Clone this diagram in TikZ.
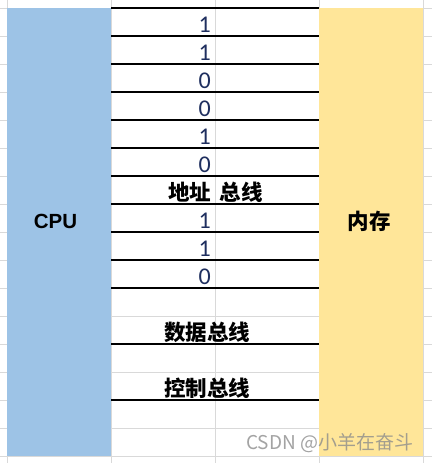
\documentclass[tikz,border=0pt]{standalone}
\usepackage{fontspec}
\setmainfont{Liberation Sans}
\newfontfamily\cjk{Noto Sans CJK SC}
\newfontfamily\digitfont{Carlito}
\definecolor{cpublue}{HTML}{9DC3E6}
\definecolor{memyellow}{HTML}{FFE699}
\definecolor{gridgray}{HTML}{D9D9D9}
\definecolor{bitnavy}{HTML}{1F2F5F}
\begin{document}
\begin{tikzpicture}[x=1pt, y=-1pt,
		bit/.style={anchor=base east, inner sep=0pt, font=\digitfont\fontsize{24}{26}\selectfont, text=bitnavy},
		bus/.style={inner sep=0pt, font=\cjk\bfseries\fontsize{21.5}{24}\selectfont}]
		\useasboundingbox (0,0) rectangle (432,463);
		\fill[white] (0,0) rectangle (432,463);
		%--- Excel Raster
		\foreach \gx in {7,111,215,319,423}
			\draw[gridgray, line width=1pt] (\gx,0) -- (\gx,463);
		\foreach \gy in {8,36,...,456}
			\draw[gridgray, line width=1pt] (0,\gy) -- (432,\gy);
		
		\fill[cpublue] (7,8) rectangle (111,456);
		\node[font=\bfseries\fontsize{20.5}{24}\selectfont, inner sep=0pt] (cpu) at (55.5,221) {CPU};
		
		\fill[memyellow] (319,8) rectangle (423,456);
		\node[bus] (mem) at (369,221.5) {内存};
		
		%--- Adressbus
		\foreach \gy in {8,36,...,288}
			\draw[black, line width=1.3pt] (111,\gy) -- (319,\gy);
		\foreach \b [count=\i from 0] in {1,1,0,0,1,0}
			\node[bit] (a\i) at (211,32+28*\i) {\b};
		\node[bus] (addr) at (189.5,192) {地址};
		\node[bus] (addrb) at (241,192) {总线};
		\foreach \b [count=\i from 7] in {1,1,0}
			\node[bit] (a\i) at (211,32+28*\i) {\b};
		
		%--- Daten- und Steuerbus
		\draw[black, line width=1.3pt] (111,344) -- (319,344);
		\node[bus] (data) at (207,332.5) {数据总线};
		\draw[black, line width=1.3pt] (111,400) -- (319,400);
		\node[bus] (ctrl) at (207,388) {控制总线};
		
		\node[anchor=west, inner sep=0pt, text=black!45, opacity=0.8, font=\cjk\fontsize{19}{21}\selectfont] (mark) at (246,443) {CSDN @小羊在奋斗};
	\end{tikzpicture}
\end{document}
